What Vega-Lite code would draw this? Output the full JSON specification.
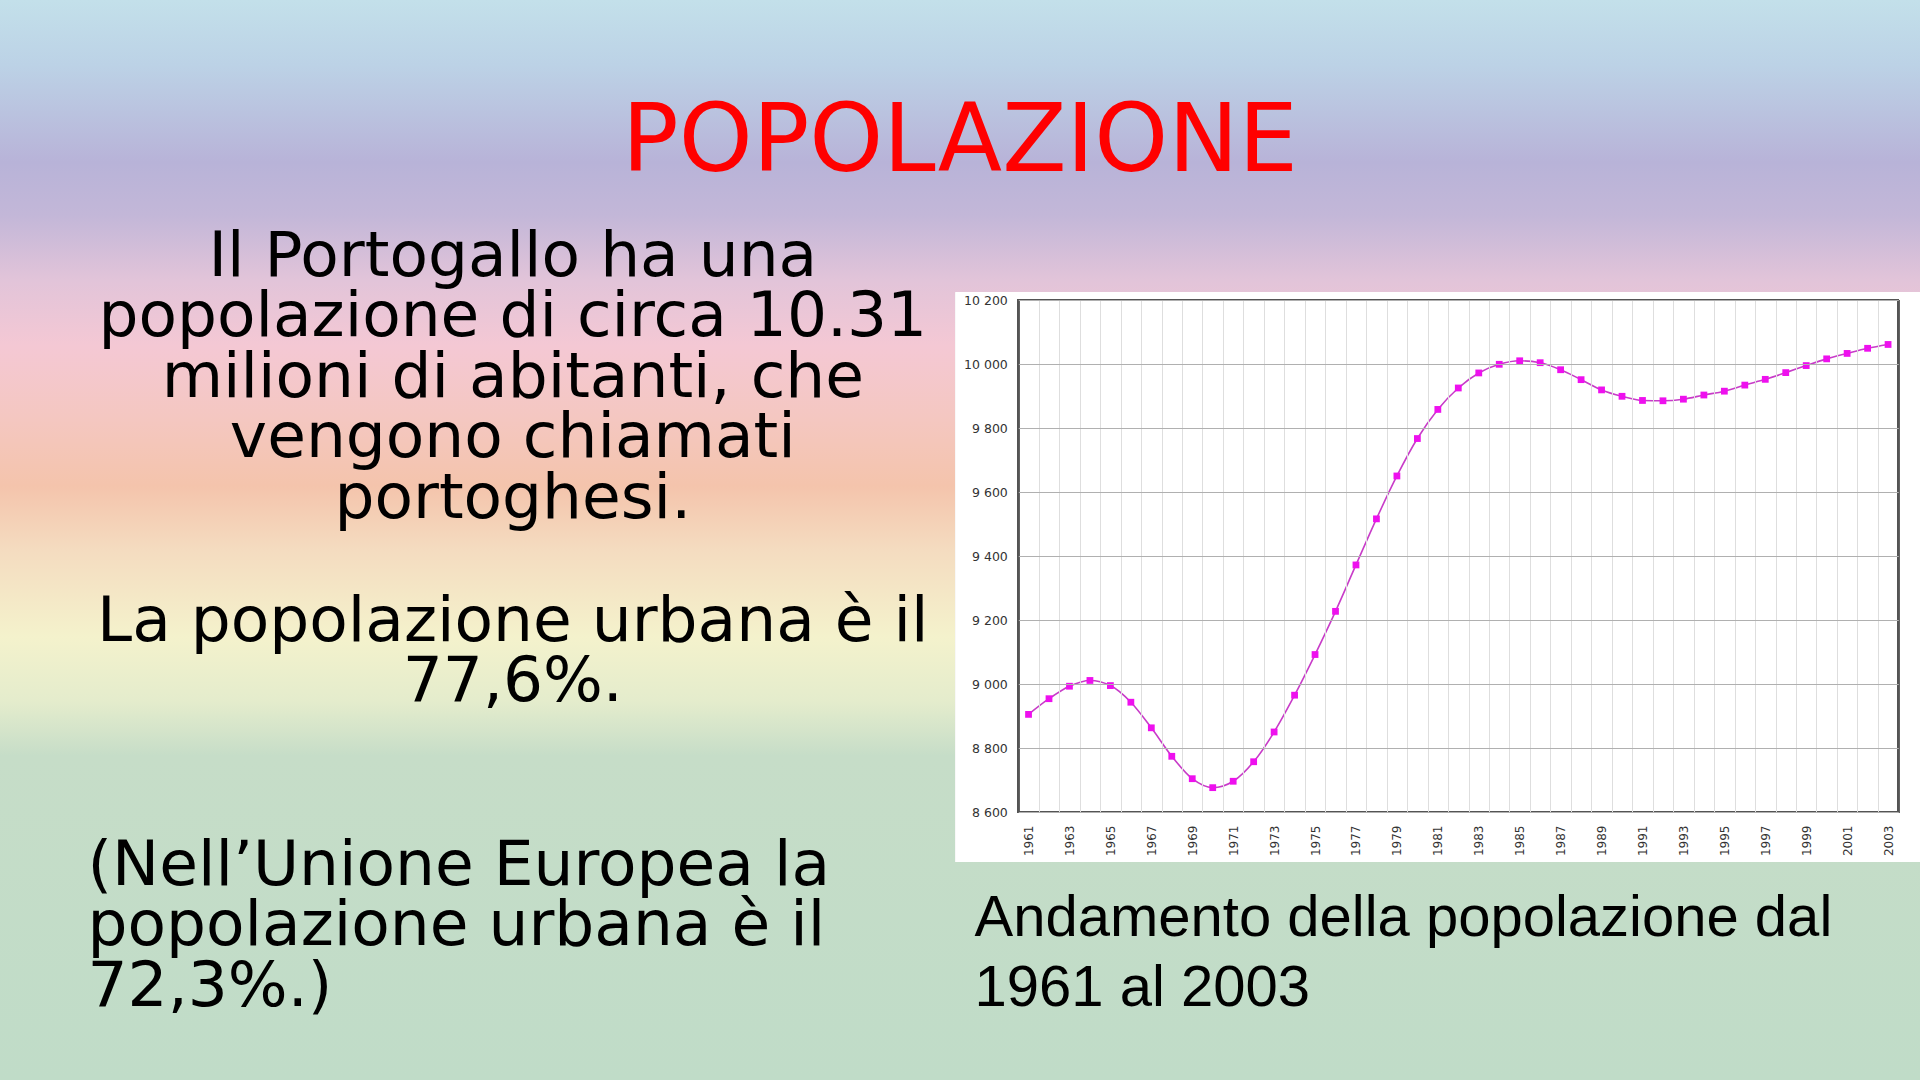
{
  "$schema": "https://vega.github.io/schema/vega-lite/v6.json",
  "width": 1920,
  "height": 1080,
  "padding": 0,
  "autosize": {"type": "none"},
  "background": "#c0dcc8",
  "config": {
    "view": {
      "stroke": null,
      "fill": {
        "gradient": "linear",
        "x1": 0, "y1": 0, "x2": 0, "y2": 1,
        "stops": [
          {"offset": 0, "color": "#c3e0ea"},
          {"offset": 0.06, "color": "#bcd2e6"},
          {"offset": 0.15, "color": "#b8b3d8"},
          {"offset": 0.2, "color": "#c3b7d8"},
          {"offset": 0.26, "color": "#e2c4d9"},
          {"offset": 0.32, "color": "#f4c8d4"},
          {"offset": 0.39, "color": "#f4c7c0"},
          {"offset": 0.45, "color": "#f4c4ac"},
          {"offset": 0.51, "color": "#f4dcc0"},
          {"offset": 0.59, "color": "#f4f2cc"},
          {"offset": 0.65, "color": "#e4eccc"},
          {"offset": 0.7, "color": "#c6ddc8"},
          {"offset": 1, "color": "#c0dcc8"}
        ]
      }
    }
  },
  "title": {
    "text": "POPOLAZIONE",
    "font": "DejaVu Sans",
    "fontSize": 94,
    "fontWeight": "normal",
    "color": "#ff0000",
    "anchor": "middle",
    "frame": "group",
    "baseline": "alphabetic",
    "offset": 0,
    "dy": 265
  },
  "data": {
    "values": [
      {"anno": 1961, "popolazione": 8906},
      {"anno": 1962, "popolazione": 8955},
      {"anno": 1963, "popolazione": 8994},
      {"anno": 1964, "popolazione": 9012},
      {"anno": 1965, "popolazione": 8996},
      {"anno": 1966, "popolazione": 8944},
      {"anno": 1967, "popolazione": 8864},
      {"anno": 1968, "popolazione": 8775},
      {"anno": 1969, "popolazione": 8705},
      {"anno": 1970, "popolazione": 8677},
      {"anno": 1971, "popolazione": 8697},
      {"anno": 1972, "popolazione": 8758},
      {"anno": 1973, "popolazione": 8851},
      {"anno": 1974, "popolazione": 8966},
      {"anno": 1975, "popolazione": 9093},
      {"anno": 1976, "popolazione": 9228},
      {"anno": 1977, "popolazione": 9373},
      {"anno": 1978, "popolazione": 9517},
      {"anno": 1979, "popolazione": 9651},
      {"anno": 1980, "popolazione": 9768},
      {"anno": 1981, "popolazione": 9859},
      {"anno": 1982, "popolazione": 9926},
      {"anno": 1983, "popolazione": 9973},
      {"anno": 1984, "popolazione": 10000},
      {"anno": 1985, "popolazione": 10011},
      {"anno": 1986, "popolazione": 10005},
      {"anno": 1987, "popolazione": 9983},
      {"anno": 1988, "popolazione": 9952},
      {"anno": 1989, "popolazione": 9920},
      {"anno": 1990, "popolazione": 9900},
      {"anno": 1991, "popolazione": 9887},
      {"anno": 1992, "popolazione": 9886},
      {"anno": 1993, "popolazione": 9891},
      {"anno": 1994, "popolazione": 9904},
      {"anno": 1995, "popolazione": 9916},
      {"anno": 1996, "popolazione": 9935},
      {"anno": 1997, "popolazione": 9953},
      {"anno": 1998, "popolazione": 9974},
      {"anno": 1999, "popolazione": 9996},
      {"anno": 2000, "popolazione": 10017},
      {"anno": 2001, "popolazione": 10034},
      {"anno": 2002, "popolazione": 10050},
      {"anno": 2003, "popolazione": 10062}
    ]
  },
  "layer": [
    {
      "mark": {"type": "rect", "fill": "#ffffff", "stroke": null},
      "encoding": {
        "x": {"datum": 1957.45, "type": "quantitative", "axis": null},
        "x2": {"datum": 2004.8},
        "y": {"datum": 10225, "type": "quantitative", "axis": null},
        "y2": {"datum": 8445}
      }
    },
    {
      "mark": {"type": "rect", "fill": null, "fillOpacity": 0, "stroke": "#555555", "strokeWidth": 1.5},
      "encoding": {
        "x": {"datum": 1960.5, "type": "quantitative", "axis": null},
        "x2": {"datum": 2003.5},
        "y": {"datum": 10200, "type": "quantitative", "axis": null},
        "y2": {"datum": 8600}
      }
    },
    {
      "mark": {"type": "line", "color": "#c83cc8", "strokeWidth": 1.6, "interpolate": "monotone"},
      "encoding": {
        "x": {
          "field": "anno",
          "type": "quantitative",
          "scale": {"domain": [1960.5, 2003.5], "range": [1018.3, 1898.3], "nice": false, "zero": false},
          "axis": {
            "orient": "bottom",
            "offset": -268,
            "values": [1961, 1963, 1965, 1967, 1969, 1971, 1973, 1975, 1977, 1979, 1981, 1983, 1985, 1987, 1989, 1991, 1993, 1995, 1997, 1999, 2001, 2003],
            "format": "d",
            "labelAngle": 270,
            "labelFont": "DejaVu Sans",
            "labelFontSize": 12,
            "labelColor": "#333333",
            "labelPadding": 13,
            "labelFlush": false,
            "labelOverlap": false,
            "ticks": false,
            "domain": false,
            "grid": false,
            "zindex": 1,
            "title": ["Andamento della popolazione dal", "1961 al 2003"],
            "titleFont": "Liberation Sans",
            "titleFontSize": 58,
            "titleFontWeight": "normal",
            "titleColor": "#000000",
            "titleAngle": 0,
            "titleAlign": "left",
            "titleBaseline": "alphabetic",
            "titleLineHeight": 70,
            "titleX": 974,
            "titleY": 123
          }
        },
        "y": {
          "field": "popolazione",
          "type": "quantitative",
          "scale": {"domain": [8600, 10200], "range": [812.3, 300.3], "nice": false, "zero": false},
          "axis": {
            "orient": "left",
            "offset": -1018.3,
            "values": [8600, 8800, 9000, 9200, 9400, 9600, 9800, 10000, 10200],
            "labelExpr": "replace(format(datum.value, ','), ',', ' ')",
            "labelFont": "DejaVu Sans",
            "labelFontSize": 12.5,
            "labelColor": "#333333",
            "labelPadding": 11,
            "ticks": false,
            "domain": false,
            "grid": true,
            "gridColor": "#b0b0b0",
            "gridWidth": 1,
            "zindex": 1,
            "title": ["Il Portogallo ha una", "popolazione di circa 10.31", "milioni di abitanti, che", "vengono chiamati", "portoghesi."],
            "titleFont": "DejaVu Sans",
            "titleFontSize": 63,
            "titleFontWeight": "normal",
            "titleColor": "#000000",
            "titleAngle": 0,
            "titleAlign": "center",
            "titleBaseline": "alphabetic",
            "titleLineHeight": 60.5,
            "titleX": -506,
            "titleY": 275
          }
        }
      }
    },
    {
      "mark": {"type": "point", "shape": "square", "filled": true, "size": 46, "color": "#ee10ee", "opacity": 1},
      "encoding": {
        "x": {
          "field": "anno",
          "type": "quantitative",
          "axis": {
            "orient": "top",
            "values": [1961.5, 1962.5, 1963.5, 1964.5, 1965.5, 1966.5, 1967.5, 1968.5, 1969.5, 1970.5, 1971.5, 1972.5, 1973.5, 1974.5, 1975.5, 1976.5, 1977.5, 1978.5, 1979.5, 1980.5, 1981.5, 1982.5, 1983.5, 1984.5, 1985.5, 1986.5, 1987.5, 1988.5, 1989.5, 1990.5, 1991.5, 1992.5, 1993.5, 1994.5, 1995.5, 1996.5, 1997.5, 1998.5, 1999.5, 2000.5, 2001.5, 2002.5],
            "labels": false,
            "ticks": false,
            "domain": false,
            "grid": true,
            "gridColor": "#dedede",
            "gridWidth": 1,
            "zindex": 1,
            "title": ["(Nell’Unione Europea la", "popolazione urbana è il", "72,3%.)"],
            "titleFont": "DejaVu Sans",
            "titleFontSize": 63,
            "titleFontWeight": "normal",
            "titleColor": "#000000",
            "titleAngle": 0,
            "titleAlign": "left",
            "titleBaseline": "alphabetic",
            "titleLineHeight": 60.5,
            "titleX": 87,
            "titleY": 884
          }
        },
        "y": {
          "field": "popolazione",
          "type": "quantitative",
          "axis": {
            "orient": "left",
            "offset": -1018.3,
            "labels": false,
            "ticks": false,
            "domain": false,
            "grid": false,
            "zindex": 1,
            "title": ["La popolazione urbana è il", "77,6%."],
            "titleFont": "DejaVu Sans",
            "titleFontSize": 63,
            "titleFontWeight": "normal",
            "titleColor": "#000000",
            "titleAngle": 0,
            "titleAlign": "center",
            "titleBaseline": "alphabetic",
            "titleLineHeight": 60.5,
            "titleX": -506,
            "titleY": 640
          }
        }
      }
    }
  ],
  "resolve": {"axis": {"x": "independent", "y": "independent"}}
}
